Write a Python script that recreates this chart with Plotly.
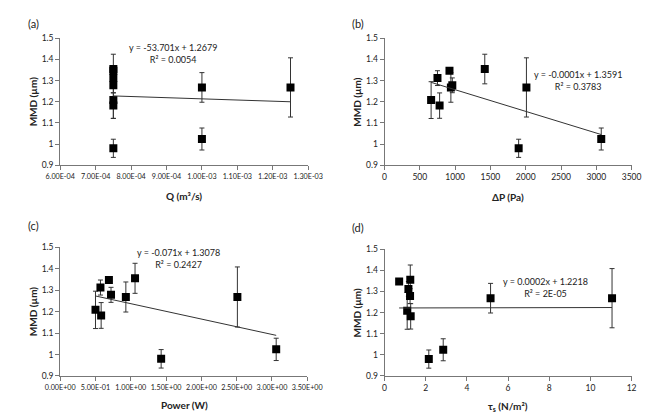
import numpy as np
import plotly.graph_objects as go

# ---- data (10 samples) ----
mmd = [1.208, 1.312, 1.182, 1.347, 1.268, 1.278, 1.355, 0.980, 1.268, 1.024]
mmd_err = [0.087, 0.035, 0.060, 0.010, 0.070, 0.035, 0.070, 0.043, 0.140, 0.052]
flow_q = [7.5e-4, 7.5e-4, 7.5e-4, 7.5e-4, 1.0e-3, 7.5e-4, 7.5e-4, 7.5e-4, 1.25e-3, 1.0e-3]  # m3/s
delta_p = [660, 750, 780, 920, 940, 960, 1420, 1900, 2010, 3070]
power = [0.50, 0.57, 0.58, 0.69, 0.93, 0.72, 1.06, 1.43, 2.51, 3.06]
tau_s = [1.10, 1.16, 1.27, 0.71, 5.15, 1.24, 1.25, 2.15, 11.05, 2.85]

# Q axis is plotted in units of 1e-4 m3/s (labels show the real values)
Q_UNIT = 1e-4
q_tick_default = ["6", "7", "8", "9", "10", "11", "12", "13"]
q_ticktext = ["6.00E-04", "7.00E-04", "8.00E-04", "9.00E-04", "1.00E-03", "1.10E-03", "1.20E-03", "1.30E-03"]
p_tick_default = ["0", "0.5", "1", "1.5", "2", "2.5", "3", "3.5"]
p_ticktext = ["0.00E+00", "5.00E-01", "1.00E+00", "1.50E+00", "2.00E+00", "2.50E+00", "3.00E+00", "3.50E+00"]

eq_text = ["y = -53.701x + 1.2679<br>R² = 0.0054",
           "y = -0.0001x + 1.3591<br>R² = 0.3783",
           "y = -0.071x + 1.3078<br>R² = 0.2427",
           "y = 0.0002x + 1.2218<br>R² = 2E-05"]
panel_labels = ["(a)", "(b)", "(c)", "(d)"]
x_titles = ["<b>Q (m³/s)</b>", "<b>ΔP (Pa)</b>", "<b>Power (W)</b>", "<b>τ<sub>s</sub> (N/m²)</b>"]

W, H = 651, 413
FONT = "Lato, Liberation Sans, Arial"
TICKFONT = "Lato, Liberation Sans, Arial"

def px(x):
    return x / W

def py(y):
    return 1 - y / H

# plot area pixel boxes: (x0, x1, ytop, ybottom)
boxes = [(39, 299, 26, 156), (379, 638, 26, 156), (39, 298, 240, 372), (379, 638, 242, 372)]
xs_list = [np.array(flow_q) / Q_UNIT, delta_p, power, tau_s]
xranges = [[6, 13], [0, 3500], [0, 3.5], [0, 12]]
xdticks = [1, 500, 0.5, 2]

fig = go.Figure()
layout = dict(width=W, height=H, margin=dict(l=0, r=0, t=0, b=0),
              paper_bgcolor="white", plot_bgcolor="white", showlegend=False,
              font=dict(family=FONT, size=9, color="#222"))
annotations = []

for i in range(4):
    sfx = "" if i == 0 else str(i + 1)
    xa, ya = "x" + sfx, "y" + sfx
    xs = np.array(xs_list[i], dtype=float)
    ys = np.array(mmd)
    fig.add_trace(go.Scatter(
        x=xs, y=ys, mode="markers", xaxis=xa, yaxis=ya,
        marker=dict(symbol="square", size=8, color="black"),
        error_y=dict(type="data", array=mmd_err, visible=True, color="#333", thickness=1, width=2.5),
    ))
    slope, icpt = np.polyfit(xs, ys, 1)
    lx = np.array([xs.min(), xs.max()])
    fig.add_trace(go.Scatter(x=lx, y=slope * lx + icpt, mode="lines", xaxis=xa, yaxis=ya,
                             line=dict(color="#333", width=1), hoverinfo="skip"))
    x0, x1, yt, yb = boxes[i]
    xsize = 7.2 if i in (0, 2) else 8.5
    xax = dict(domain=[px(x0), px(x1)], range=xranges[i], anchor=ya,
               tickmode="linear", tick0=xranges[i][0], dtick=xdticks[i],
               showline=True, linecolor="#777", linewidth=1, ticks="outside", ticklen=4,
               tickcolor="#777", showgrid=False, zeroline=False, tickangle=0,
               tickfont=dict(size=xsize, family=TICKFONT, color="#222"))
    if i == 0:
        xax.update(labelalias=dict(zip(q_tick_default, q_ticktext)))
    elif i == 2:
        xax.update(labelalias=dict(zip(p_tick_default, p_ticktext)))
    yax = dict(domain=[py(yb), py(yt)], range=[0.9, 1.5], dtick=0.1, tick0=0.9, anchor=xa,
               showline=True, linecolor="#777", linewidth=1, ticks="outside", ticklen=4,
               tickcolor="#777", showgrid=False, zeroline=False,
               tickfont=dict(size=8.5, family=TICKFONT, color="#222"))
    layout["xaxis" + sfx] = xax
    layout["yaxis" + sfx] = yax

# text positions (pixels)
label_pos = [(3, 11), (343, 11), (3, 218), (343, 220)]
eq_pos = [(157, 41), (582, 69), (163, 252), (548, 281)]
xt_pos = [(169, 188), (508, 189), (169, 402), (508, 403)]
yt_pos = [(10, 91), (350, 91), (10, 306), (350, 307)]

for i in range(4):
    annotations.append(dict(text=panel_labels[i], x=px(label_pos[i][0]), y=py(label_pos[i][1]),
                            xref="paper", yref="paper", xanchor="left", yanchor="middle",
                            showarrow=False, font=dict(size=11, family=FONT, color="#222")))
    annotations.append(dict(text=eq_text[i], x=px(eq_pos[i][0]), y=py(eq_pos[i][1]),
                            xref="paper", yref="paper", xanchor="center", yanchor="middle",
                            showarrow=False, align="center",
                            font=dict(size=9, family=FONT, color="#222")))
    annotations.append(dict(text=x_titles[i], x=px(xt_pos[i][0]), y=py(xt_pos[i][1]),
                            xref="paper", yref="paper", xanchor="center", yanchor="middle",
                            showarrow=False, font=dict(size=10, family=FONT, color="#222")))
    annotations.append(dict(text="<b>MMD (µm)</b>", x=px(yt_pos[i][0]), y=py(yt_pos[i][1]),
                            xref="paper", yref="paper", xanchor="center", yanchor="middle",
                            textangle=-90, showarrow=False,
                            font=dict(size=10, family=FONT, color="#222")))

layout["annotations"] = annotations
fig.update_layout(**layout)
fig.write_html("out.html")
